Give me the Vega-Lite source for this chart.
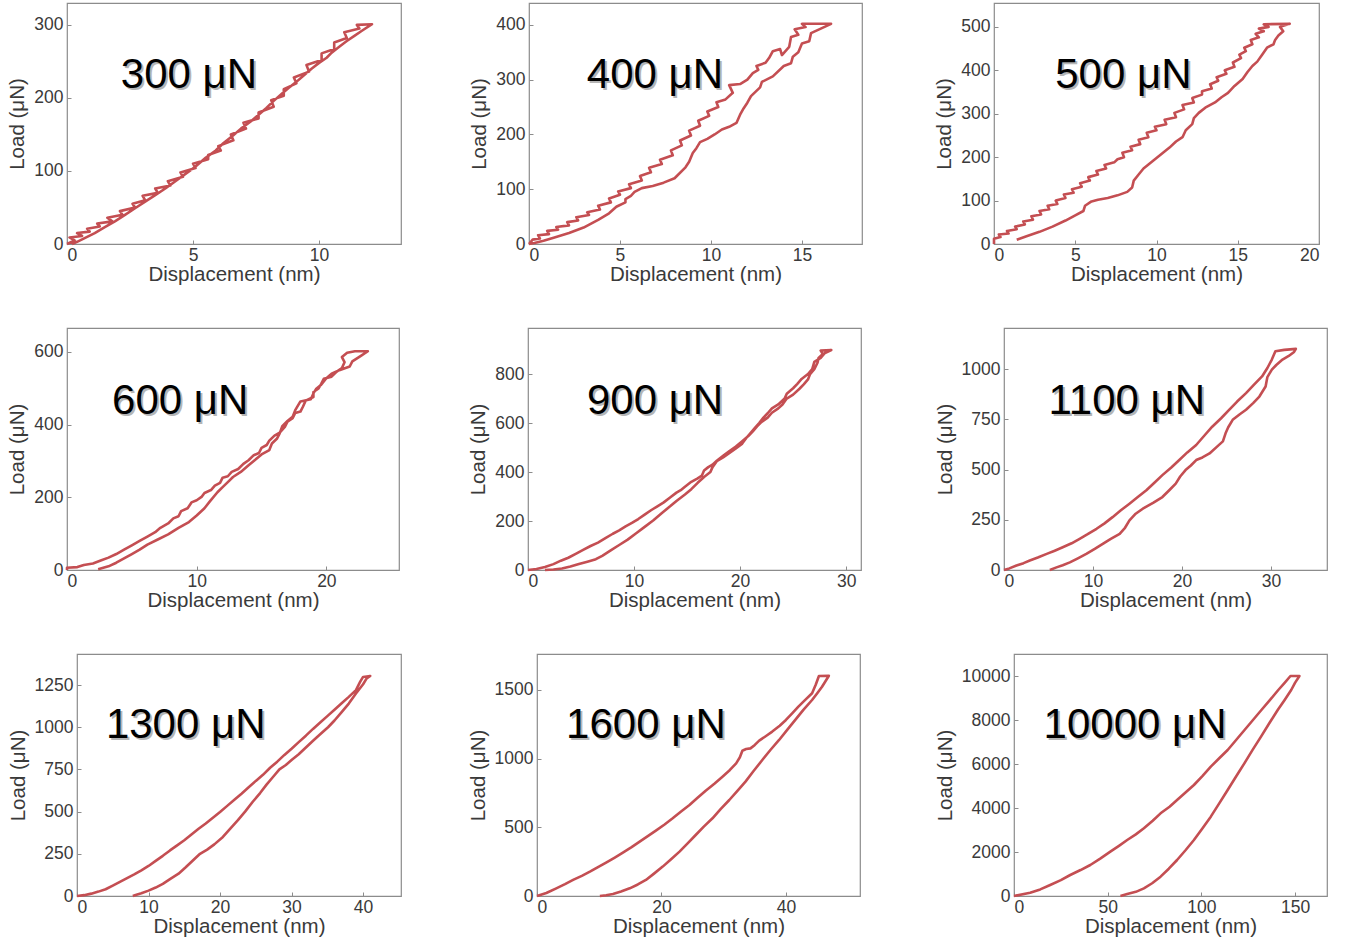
{
  "$schema": "https://vega.github.io/schema/vega-lite/v6.json",
  "background": "white",
  "padding": {"left": 6, "top": 2, "right": 5, "bottom": 5},
  "config": {
    "font": "Liberation Sans",
    "view": {"stroke": "#8c8c8c", "strokeWidth": 1.2},
    "axis": {"domain": false, "grid": false, "labelFontSize": 17.5, "titleFontSize": 20.5, "labelColor": "#3a3a3a", "titleColor": "#3a3a3a", "titleFontWeight": "normal", "ticks": true, "tickSize": -4, "tickColor": "#8c8c8c", "labelFont": "Liberation Sans", "titleFont": "Liberation Sans"},
    "axisX": {"labelPadding": 6, "titlePadding": 1},
    "axisY": {"labelPadding": 8, "titlePadding": 6},
    "line": {"color": "#c44e52", "strokeWidth": 2.6, "strokeJoin": "round"},
    "text": {"font": "Liberation Sans", "fontSize": 42, "align": "center", "baseline": "alphabetic"}
  },
  "columns": 1,
  "spacing": 41,
  "concat": [
    {
      "spacing": 0,
      "hconcat": [
        {"width": 1, "height": 1, "data": {"values": []}, "mark": {"type": "point", "opacity": 0}, "encoding": {}, "view": {"stroke": null}},
        {
          "spacing": 67,
          "hconcat": [
            {
              "width": 334, "height": 241,
              "encoding": {
                "x": {"field": "disp", "type": "quantitative", "title": "Displacement (nm)", "scale": {"domain": [0, 13.25], "nice": false}, "axis": {"values": [0, 5, 10], "format": "d"}},
                "y": {"field": "load", "type": "quantitative", "title": "Load (μN)", "scale": {"domain": [0, 330], "nice": false}, "axis": {"values": [0, 100, 200, 300], "format": "d"}}
              },
              "layer": [
                {"data": {"values": [{"disp":0,"load":0},{"disp":0.3,"load":5},{"disp":0.1,"load":9},{"disp":0.6,"load":11},{"disp":0.4,"load":15},{"disp":0.9,"load":17},{"disp":0.8,"load":21},{"disp":1.3,"load":24},{"disp":1.2,"load":28},{"disp":1.8,"load":31},{"disp":1.6,"load":36},{"disp":2.2,"load":40},{"disp":2.1,"load":45},{"disp":2.7,"load":50},{"disp":2.6,"load":55},{"disp":3.1,"load":60},{"disp":3.0,"load":66},{"disp":3.6,"load":70},{"disp":3.5,"load":76},{"disp":4.1,"load":80},{"disp":4.0,"load":86},{"disp":4.6,"load":92},{"disp":4.5,"load":98},{"disp":5.1,"load":104},{"disp":5.0,"load":110},{"disp":5.6,"load":116},{"disp":5.6,"load":122},{"disp":6.1,"load":128},{"disp":6.0,"load":134},{"disp":6.6,"load":142},{"disp":6.5,"load":150},{"disp":7.1,"load":158},{"disp":7.0,"load":166},{"disp":7.6,"load":172},{"disp":7.6,"load":180},{"disp":8.2,"load":188},{"disp":8.1,"load":197},{"disp":8.6,"load":203},{"disp":8.6,"load":212},{"disp":9.1,"load":220},{"disp":9.0,"load":228},{"disp":9.6,"load":236},{"disp":9.5,"load":245},{"disp":10.1,"load":252},{"disp":10.1,"load":261},{"disp":10.6,"load":267},{"disp":10.6,"load":276},{"disp":11.1,"load":282},{"disp":11.0,"load":290},{"disp":11.6,"load":295},{"disp":11.5,"load":300},{"disp":12.1,"load":301},{"disp":11.7,"load":292},{"disp":11.4,"load":285},{"disp":11.1,"load":278},{"disp":10.8,"load":270},{"disp":10.5,"load":262},{"disp":10.3,"load":255},{"disp":10.0,"load":248},{"disp":9.7,"load":240},{"disp":9.4,"load":231},{"disp":9.1,"load":222},{"disp":8.8,"load":214},{"disp":8.5,"load":205},{"disp":8.2,"load":196},{"disp":7.9,"load":186},{"disp":7.6,"load":177},{"disp":7.3,"load":168},{"disp":6.9,"load":158},{"disp":6.6,"load":149},{"disp":6.2,"load":138},{"disp":5.9,"load":128},{"disp":5.5,"load":118},{"disp":5.1,"load":106},{"disp":4.7,"load":96},{"disp":4.3,"load":86},{"disp":3.9,"load":76},{"disp":3.5,"load":67},{"disp":3.1,"load":58},{"disp":2.7,"load":49},{"disp":2.3,"load":40},{"disp":1.9,"load":31},{"disp":1.5,"load":23},{"disp":1.1,"load":15},{"disp":0.7,"load":8},{"disp":0.4,"load":3},{"disp":0.2,"load":0}]},
                 "mark": "line", "encoding": {"order": {"value": null}}},
                {"data": {"values": [{"label": "300 μN", "disp": 4.84, "load": 214}]},
                 "mark": {"type": "text", "color": "#b5b5b5", "dx": 2, "dy": 2}, "encoding": {"text": {"field": "label"}}},
                {"data": {"values": [{"label": "300 μN", "disp": 4.84, "load": 214}]},
                 "mark": {"type": "text", "color": "black"}, "encoding": {"text": {"field": "label"}}}
              ]
            },
            {
              "spacing": 71,
              "hconcat": [
                {
                  "width": 333, "height": 241,
                  "encoding": {
                    "x": {"field": "disp", "type": "quantitative", "title": "Displacement (nm)", "scale": {"domain": [0, 18.3], "nice": false}, "axis": {"values": [0, 5, 10, 15], "format": "d"}},
                    "y": {"field": "load", "type": "quantitative", "title": "Load (μN)", "scale": {"domain": [0, 440], "nice": false}, "axis": {"values": [0, 100, 200, 300, 400], "format": "d"}}
                  },
                  "layer": [
                    {"data": {"values": [{"disp":0,"load":0},{"disp":0.2,"load":8},{"disp":0.6,"load":10},{"disp":0.5,"load":16},{"disp":1.1,"load":18},{"disp":1.0,"load":24},{"disp":1.6,"load":26},{"disp":1.5,"load":31},{"disp":2.2,"load":34},{"disp":2.1,"load":40},{"disp":2.7,"load":43},{"disp":2.6,"load":49},{"disp":3.3,"load":53},{"disp":3.2,"load":58},{"disp":3.9,"load":63},{"disp":3.8,"load":70},{"disp":4.5,"load":76},{"disp":4.4,"load":83},{"disp":5.0,"load":90},{"disp":4.9,"load":96},{"disp":5.6,"load":102},{"disp":5.5,"load":109},{"disp":6.2,"load":116},{"disp":6.1,"load":124},{"disp":6.7,"load":131},{"disp":6.6,"load":139},{"disp":7.3,"load":146},{"disp":7.2,"load":154},{"disp":7.9,"load":162},{"disp":7.8,"load":171},{"disp":8.4,"load":180},{"disp":8.3,"load":189},{"disp":8.9,"load":198},{"disp":8.8,"load":207},{"disp":9.4,"load":216},{"disp":9.3,"load":225},{"disp":9.9,"load":234},{"disp":9.8,"load":242},{"disp":10.4,"load":250},{"disp":10.3,"load":259},{"disp":10.8,"load":264},{"disp":11.2,"load":276},{"disp":11.0,"load":290},{"disp":11.6,"load":292},{"disp":12.0,"load":300},{"disp":12.3,"load":312},{"disp":12.6,"load":318},{"disp":12.5,"load":325},{"disp":13.0,"load":331},{"disp":13.2,"load":340},{"disp":13.4,"load":352},{"disp":13.8,"load":356},{"disp":13.9,"load":345},{"disp":14.3,"load":360},{"disp":14.4,"load":378},{"disp":14.8,"load":382},{"disp":14.6,"load":392},{"disp":15.2,"load":396},{"disp":15.0,"load":402},{"disp":16.6,"load":402},{"disp":15.5,"load":385},{"disp":15.4,"load":370},{"disp":15.0,"load":366},{"disp":14.8,"load":350},{"disp":14.5,"load":342},{"disp":14.4,"load":330},{"disp":14.0,"load":325},{"disp":13.4,"load":306},{"disp":12.8,"load":296},{"disp":12.7,"load":286},{"disp":12.2,"load":270},{"disp":12.0,"load":258},{"disp":11.8,"load":248},{"disp":11.6,"load":236},{"disp":11.4,"load":221},{"disp":11.0,"load":214},{"disp":10.6,"load":209},{"disp":10.2,"load":200},{"disp":9.8,"load":192},{"disp":9.4,"load":186},{"disp":9.2,"load":175},{"disp":9.0,"load":166},{"disp":8.8,"load":150},{"disp":8.6,"load":140},{"disp":8.0,"load":120},{"disp":7.4,"load":112},{"disp":6.8,"load":106},{"disp":6.2,"load":102},{"disp":5.8,"load":95},{"disp":5.6,"load":88},{"disp":5.3,"load":82},{"disp":5.3,"load":76},{"disp":4.8,"load":68},{"disp":4.4,"load":56},{"disp":3.8,"load":44},{"disp":3.0,"load":30},{"disp":2.2,"load":20},{"disp":1.4,"load":12},{"disp":0.8,"load":6},{"disp":0.3,"load":2},{"disp":0,"load":0}]},
                     "mark": "line", "encoding": {"order": {"value": null}}},
                    {"data": {"values": [{"label": "400 μN", "disp": 6.92, "load": 285}]},
                     "mark": {"type": "text", "color": "#b5b5b5", "dx": 2, "dy": 2}, "encoding": {"text": {"field": "label"}}},
                    {"data": {"values": [{"label": "400 μN", "disp": 6.92, "load": 285}]},
                     "mark": {"type": "text", "color": "black"}, "encoding": {"text": {"field": "label"}}}
                  ]
                },
                {
                  "width": 325, "height": 241,
                  "encoding": {
                    "x": {"field": "disp", "type": "quantitative", "title": "Displacement (nm)", "scale": {"domain": [0, 20], "nice": false}, "axis": {"values": [0, 5, 10, 15, 20], "format": "d"}},
                    "y": {"field": "load", "type": "quantitative", "title": "Load (μN)", "scale": {"domain": [0, 555], "nice": false}, "axis": {"values": [0, 100, 200, 300, 400, 500], "format": "d"}}
                  },
                  "layer": [
                    {"data": {"values": [{"disp":0,"load":0},{"disp":0,"load":12},{"disp":0.4,"load":16},{"disp":0.3,"load":22},{"disp":0.9,"load":24},{"disp":0.8,"load":30},{"disp":1.4,"load":34},{"disp":1.3,"load":40},{"disp":1.9,"load":45},{"disp":1.8,"load":52},{"disp":2.4,"load":56},{"disp":2.3,"load":64},{"disp":2.9,"load":68},{"disp":2.8,"load":76},{"disp":3.4,"load":80},{"disp":3.3,"load":88},{"disp":3.9,"load":92},{"disp":3.8,"load":100},{"disp":4.4,"load":106},{"disp":4.3,"load":114},{"disp":4.9,"load":118},{"disp":4.8,"load":126},{"disp":5.4,"load":132},{"disp":5.3,"load":140},{"disp":5.9,"load":146},{"disp":5.8,"load":154},{"disp":6.4,"load":160},{"disp":6.3,"load":168},{"disp":6.9,"load":174},{"disp":6.8,"load":182},{"disp":7.4,"load":188},{"disp":7.6,"load":195},{"disp":8.0,"load":200},{"disp":7.9,"load":210},{"disp":8.5,"load":216},{"disp":8.4,"load":224},{"disp":9.0,"load":230},{"disp":8.9,"load":240},{"disp":9.5,"load":246},{"disp":9.4,"load":256},{"disp":10.0,"load":262},{"disp":9.9,"load":270},{"disp":10.6,"load":276},{"disp":10.5,"load":286},{"disp":11.2,"load":292},{"disp":11.1,"load":302},{"disp":11.7,"load":310},{"disp":11.6,"load":320},{"disp":12.3,"load":326},{"disp":12.2,"load":336},{"disp":12.8,"load":344},{"disp":12.8,"load":352},{"disp":13.4,"load":358},{"disp":13.3,"load":368},{"disp":13.8,"load":376},{"disp":13.7,"load":384},{"disp":14.3,"load":392},{"disp":14.2,"load":400},{"disp":14.8,"load":408},{"disp":14.7,"load":418},{"disp":15.2,"load":428},{"disp":15.1,"load":436},{"disp":15.5,"load":444},{"disp":15.4,"load":452},{"disp":15.9,"load":460},{"disp":15.8,"load":470},{"disp":16.3,"load":476},{"disp":16.1,"load":484},{"disp":16.6,"load":490},{"disp":16.3,"load":496},{"disp":16.9,"load":500},{"disp":16.6,"load":506},{"disp":18.2,"load":507},{"disp":17.6,"load":500},{"disp":17.8,"load":490},{"disp":17.5,"load":480},{"disp":17.3,"load":470},{"disp":17.2,"load":460},{"disp":16.8,"load":452},{"disp":16.5,"load":436},{"disp":16.2,"load":420},{"disp":15.9,"load":410},{"disp":15.6,"load":396},{"disp":15.3,"load":380},{"disp":14.8,"load":364},{"disp":14.4,"load":348},{"disp":14.0,"load":338},{"disp":13.6,"load":326},{"disp":13.0,"load":314},{"disp":12.6,"load":302},{"disp":12.3,"load":290},{"disp":12.2,"load":276},{"disp":11.8,"load":262},{"disp":11.6,"load":246},{"disp":11.2,"load":236},{"disp":10.8,"load":222},{"disp":10.4,"load":210},{"disp":10.0,"load":198},{"disp":9.6,"load":186},{"disp":9.2,"load":174},{"disp":8.9,"load":160},{"disp":8.6,"load":146},{"disp":8.5,"load":130},{"disp":8.2,"load":120},{"disp":7.6,"load":112},{"disp":7.0,"load":106},{"disp":6.4,"load":102},{"disp":6.0,"load":98},{"disp":5.6,"load":88},{"disp":5.5,"load":76},{"disp":5.0,"load":66},{"disp":4.4,"load":54},{"disp":3.6,"load":40},{"disp":2.8,"load":28},{"disp":2.0,"load":18},{"disp":1.4,"load":10}]},
                     "mark": "line", "encoding": {"order": {"value": null}}},
                    {"data": {"values": [{"label": "500 μN", "disp": 7.96, "load": 359}]},
                     "mark": {"type": "text", "color": "#b5b5b5", "dx": 2, "dy": 2}, "encoding": {"text": {"field": "label"}}},
                    {"data": {"values": [{"label": "500 μN", "disp": 7.96, "load": 359}]},
                     "mark": {"type": "text", "color": "black"}, "encoding": {"text": {"field": "label"}}}
                  ]
                }
              ]
            }
          ]
        }
      ]
    },
    {
      "spacing": 0,
      "hconcat": [
        {"width": 1, "height": 1, "data": {"values": []}, "mark": {"type": "point", "opacity": 0}, "encoding": {}, "view": {"stroke": null}},
        {
          "spacing": 68,
          "hconcat": [
            {
              "width": 332, "height": 242,
              "encoding": {
                "x": {"field": "disp", "type": "quantitative", "title": "Displacement (nm)", "scale": {"domain": [0, 25.6], "nice": false}, "axis": {"values": [0, 10, 20], "format": "d"}},
                "y": {"field": "load", "type": "quantitative", "title": "Load (μN)", "scale": {"domain": [0, 666], "nice": false}, "axis": {"values": [0, 200, 400, 600], "format": "d"}}
              },
              "layer": [
                {"data": {"values": [{"disp":0,"load":0},{"disp":0,"load":6},{"disp":0.8,"load":8},{"disp":1.3,"load":14},{"disp":2.0,"load":18},{"disp":2.6,"load":26},{"disp":3.2,"load":34},{"disp":3.8,"load":44},{"disp":4.4,"load":56},{"disp":5.0,"load":68},{"disp":5.6,"load":80},{"disp":6.2,"load":92},{"disp":6.8,"load":104},{"disp":7.2,"load":116},{"disp":7.8,"load":128},{"disp":8.2,"load":142},{"disp":8.6,"load":148},{"disp":8.8,"load":162},{"disp":9.3,"load":170},{"disp":9.6,"load":186},{"disp":10.0,"load":192},{"disp":10.4,"load":202},{"disp":10.6,"load":212},{"disp":11.1,"load":220},{"disp":11.4,"load":232},{"disp":11.8,"load":240},{"disp":12.0,"load":254},{"disp":12.4,"load":258},{"disp":12.7,"load":270},{"disp":13.2,"load":278},{"disp":13.6,"load":292},{"disp":14.0,"load":302},{"disp":14.4,"load":316},{"disp":14.8,"load":322},{"disp":15.0,"load":336},{"disp":15.4,"load":344},{"disp":15.6,"load":356},{"disp":16.0,"load":370},{"disp":16.4,"load":378},{"disp":16.8,"load":394},{"disp":17.0,"load":408},{"disp":17.4,"load":418},{"disp":17.6,"load":432},{"disp":18.0,"load":436},{"disp":18.2,"load":450},{"disp":18.4,"load":466},{"disp":19.0,"load":476},{"disp":19.0,"load":490},{"disp":19.4,"load":500},{"disp":19.6,"load":512},{"disp":19.8,"load":526},{"disp":20.4,"load":532},{"disp":20.8,"load":546},{"disp":21.2,"load":556},{"disp":21.4,"load":572},{"disp":21.2,"load":586},{"disp":21.6,"load":598},{"disp":22.2,"load":602},{"disp":23.2,"load":602},{"disp":22.6,"load":588},{"disp":22.0,"load":574},{"disp":21.8,"load":560},{"disp":21.0,"load":550},{"disp":20.4,"load":540},{"disp":20.0,"load":528},{"disp":19.6,"load":510},{"disp":19.2,"load":498},{"disp":19.0,"load":486},{"disp":18.8,"load":470},{"disp":18.0,"load":464},{"disp":17.6,"load":440},{"disp":17.4,"load":422},{"disp":17.0,"load":410},{"disp":16.6,"load":396},{"disp":16.4,"load":376},{"disp":16.2,"load":362},{"disp":15.8,"load":348},{"disp":15.6,"load":330},{"disp":15.0,"load":318},{"disp":14.4,"load":300},{"disp":14.0,"load":288},{"disp":13.4,"load":270},{"disp":12.8,"load":256},{"disp":12.4,"load":242},{"disp":12.0,"load":228},{"disp":11.6,"load":214},{"disp":11.0,"load":188},{"disp":10.6,"load":170},{"disp":10.0,"load":150},{"disp":9.4,"load":132},{"disp":8.6,"load":116},{"disp":7.8,"load":98},{"disp":7.0,"load":84},{"disp":6.2,"load":70},{"disp":5.6,"load":56},{"disp":5.0,"load":44},{"disp":4.4,"load":32},{"disp":3.8,"load":20},{"disp":3.2,"load":10},{"disp":2.6,"load":4},{"disp":2.4,"load":2}]},
                 "mark": "line", "encoding": {"order": {"value": null}}},
                {"data": {"values": [{"label": "600 μN", "disp": 8.73, "load": 429}]},
                 "mark": {"type": "text", "color": "#b5b5b5", "dx": 2, "dy": 2}, "encoding": {"text": {"field": "label"}}},
                {"data": {"values": [{"label": "600 μN", "disp": 8.73, "load": 429}]},
                 "mark": {"type": "text", "color": "black"}, "encoding": {"text": {"field": "label"}}}
              ]
            },
            {
              "spacing": 72,
              "hconcat": [
                {
                  "width": 333, "height": 242,
                  "encoding": {
                    "x": {"field": "disp", "type": "quantitative", "title": "Displacement (nm)", "scale": {"domain": [0, 31.4], "nice": false}, "axis": {"values": [0, 10, 20, 30], "format": "d"}},
                    "y": {"field": "load", "type": "quantitative", "title": "Load (μN)", "scale": {"domain": [0, 988], "nice": false}, "axis": {"values": [0, 200, 400, 600, 800], "format": "d"}}
                  },
                  "layer": [
                    {"data": {"values": [{"disp":0,"load":0},{"disp":0.8,"load":4},{"disp":1.6,"load":12},{"disp":2.4,"load":24},{"disp":3.1,"load":38},{"disp":3.8,"load":50},{"disp":4.5,"load":66},{"disp":5.2,"load":82},{"disp":5.9,"load":98},{"disp":6.6,"load":112},{"disp":7.3,"load":130},{"disp":8.0,"load":148},{"disp":8.6,"load":162},{"disp":9.2,"load":178},{"disp":9.8,"load":192},{"disp":10.4,"load":208},{"disp":11.0,"load":226},{"disp":11.6,"load":244},{"disp":12.2,"load":260},{"disp":12.8,"load":276},{"disp":13.4,"load":296},{"disp":14.0,"load":316},{"disp":14.4,"load":326},{"disp":14.8,"load":340},{"disp":15.4,"load":360},{"disp":16.0,"load":374},{"disp":16.4,"load":386},{"disp":16.6,"load":406},{"disp":17.0,"load":420},{"disp":17.4,"load":430},{"disp":17.8,"load":446},{"disp":18.4,"load":466},{"disp":19.0,"load":486},{"disp":19.6,"load":504},{"disp":20.2,"load":526},{"disp":20.8,"load":548},{"disp":21.2,"load":566},{"disp":21.6,"load":586},{"disp":22.0,"load":604},{"disp":22.6,"load":622},{"disp":23.0,"load":642},{"disp":23.6,"load":660},{"disp":24.0,"load":676},{"disp":24.4,"load":700},{"disp":25.0,"load":716},{"disp":25.6,"load":740},{"disp":26.0,"load":758},{"disp":26.4,"load":778},{"disp":26.6,"load":800},{"disp":27.0,"load":820},{"disp":27.3,"load":846},{"disp":27.4,"load":866},{"disp":27.8,"load":882},{"disp":27.6,"load":896},{"disp":28.6,"load":898},{"disp":28.0,"load":886},{"disp":27.6,"load":866},{"disp":27.0,"load":850},{"disp":26.8,"load":820},{"disp":26.4,"load":800},{"disp":25.8,"load":780},{"disp":25.4,"load":760},{"disp":25.0,"load":742},{"disp":24.4,"load":720},{"disp":24.2,"load":700},{"disp":23.6,"load":676},{"disp":23.0,"load":660},{"disp":22.6,"load":640},{"disp":22.2,"load":622},{"disp":21.8,"load":600},{"disp":21.4,"load":580},{"disp":21.0,"load":560},{"disp":20.6,"load":540},{"disp":20.2,"load":516},{"disp":19.6,"load":496},{"disp":19.0,"load":478},{"disp":18.4,"load":460},{"disp":17.8,"load":444},{"disp":17.4,"load":420},{"disp":17.2,"load":400},{"disp":16.6,"load":380},{"disp":16.0,"load":356},{"disp":15.4,"load":330},{"disp":14.8,"load":308},{"disp":14.0,"load":282},{"disp":13.4,"load":260},{"disp":12.6,"load":232},{"disp":11.8,"load":202},{"disp":11.0,"load":176},{"disp":10.2,"load":150},{"disp":9.4,"load":124},{"disp":8.6,"load":102},{"disp":7.8,"load":80},{"disp":7.0,"load":58},{"disp":6.4,"load":44},{"disp":5.6,"load":34},{"disp":4.8,"load":24},{"disp":4.0,"load":14},{"disp":3.2,"load":6},{"disp":2.4,"load":2},{"disp":1.6,"load":0}]},
                     "mark": "line", "encoding": {"order": {"value": null}}},
                    {"data": {"values": [{"label": "900 μN", "disp": 11.98, "load": 637}]},
                     "mark": {"type": "text", "color": "#b5b5b5", "dx": 2, "dy": 2}, "encoding": {"text": {"field": "label"}}},
                    {"data": {"values": [{"label": "900 μN", "disp": 11.98, "load": 637}]},
                     "mark": {"type": "text", "color": "black"}, "encoding": {"text": {"field": "label"}}}
                  ]
                },
                {
                  "width": 323, "height": 242,
                  "encoding": {
                    "x": {"field": "disp", "type": "quantitative", "title": "Displacement (nm)", "scale": {"domain": [0, 36.3], "nice": false}, "axis": {"values": [0, 10, 20, 30], "format": "d"}},
                    "y": {"field": "load", "type": "quantitative", "title": "Load (μN)", "scale": {"domain": [0, 1204], "nice": false}, "axis": {"values": [0, 250, 500, 750, 1000], "format": "d"}}
                  },
                  "layer": [
                    {"data": {"values": [{"disp":0,"load":0},{"disp":0.6,"load":8},{"disp":1.4,"load":22},{"disp":2.2,"load":34},{"disp":2.9,"load":47},{"disp":3.8,"load":62},{"disp":4.8,"load":80},{"disp":5.7,"load":96},{"disp":6.6,"load":113},{"disp":7.6,"load":133},{"disp":8.5,"load":155},{"disp":9.4,"load":178},{"disp":10.4,"load":205},{"disp":11.3,"load":232},{"disp":12.2,"load":263},{"disp":13.1,"load":296},{"disp":14.1,"load":330},{"disp":15.0,"load":362},{"disp":16.0,"load":397},{"disp":16.9,"load":434},{"disp":17.8,"load":472},{"disp":18.8,"load":510},{"disp":19.7,"load":547},{"disp":20.6,"load":585},{"disp":21.6,"load":622},{"disp":22.5,"load":668},{"disp":23.4,"load":713},{"disp":24.4,"load":755},{"disp":25.3,"load":797},{"disp":26.2,"load":838},{"disp":27.2,"load":880},{"disp":28.1,"load":922},{"disp":29.0,"load":963},{"disp":29.6,"load":1005},{"disp":30.1,"load":1047},{"disp":30.5,"load":1088},{"disp":31.5,"load":1095},{"disp":32.8,"load":1100},{"disp":32.6,"load":1085},{"disp":32.0,"load":1065},{"disp":31.3,"load":1047},{"disp":30.6,"load":1020},{"disp":30.1,"load":997},{"disp":29.6,"load":960},{"disp":29.4,"load":913},{"disp":28.7,"load":863},{"disp":28.0,"load":830},{"disp":27.2,"load":797},{"disp":26.5,"load":775},{"disp":25.7,"load":747},{"disp":25.2,"load":710},{"disp":24.9,"load":680},{"disp":24.6,"load":640},{"disp":24.1,"load":620},{"disp":23.1,"load":580},{"disp":22.3,"load":560},{"disp":21.6,"load":547},{"disp":21.0,"load":520},{"disp":20.4,"load":497},{"disp":19.8,"load":465},{"disp":19.3,"load":430},{"disp":18.6,"load":398},{"disp":17.8,"load":363},{"disp":16.8,"load":335},{"disp":15.6,"load":305},{"disp":14.8,"load":280},{"disp":14.1,"load":247},{"disp":13.6,"load":210},{"disp":13.0,"load":180},{"disp":12.0,"load":155},{"disp":11.1,"load":130},{"disp":10.2,"load":105},{"disp":9.25,"load":80},{"disp":8.3,"load":58},{"disp":7.4,"load":38},{"disp":6.6,"load":24},{"disp":5.9,"load":13},{"disp":5.15,"load":0}]},
                     "mark": "line", "encoding": {"order": {"value": null}}},
                    {"data": {"values": [{"label": "1100 μN", "disp": 13.8, "load": 776}]},
                     "mark": {"type": "text", "color": "#b5b5b5", "dx": 2, "dy": 2}, "encoding": {"text": {"field": "label"}}},
                    {"data": {"values": [{"label": "1100 μN", "disp": 13.8, "load": 776}]},
                     "mark": {"type": "text", "color": "black"}, "encoding": {"text": {"field": "label"}}}
                  ]
                }
              ]
            }
          ]
        }
      ]
    },
    {
      "spacing": 0,
      "hconcat": [
        {"width": 1, "height": 1, "data": {"values": []}, "mark": {"type": "point", "opacity": 0}, "encoding": {}, "view": {"stroke": null}},
        {
          "spacing": 65,
          "hconcat": [
            {
              "width": 324, "height": 242,
              "encoding": {
                "x": {"field": "disp", "type": "quantitative", "title": "Displacement (nm)", "scale": {"domain": [0, 45.3], "nice": false}, "axis": {"values": [0, 10, 20, 30, 40], "format": "d"}},
                "y": {"field": "load", "type": "quantitative", "title": "Load (μN)", "scale": {"domain": [0, 1434], "nice": false}, "axis": {"values": [0, 250, 500, 750, 1000, 1250], "format": "d"}}
              },
              "layer": [
                {"data": {"values": [{"disp":0,"load":0},{"disp":1,"load":5},{"disp":2,"load":14},{"disp":3,"load":26},{"disp":4,"load":40},{"disp":5,"load":62},{"disp":6,"load":84},{"disp":7,"load":106},{"disp":8,"load":128},{"disp":9,"load":152},{"disp":10,"load":178},{"disp":11,"load":208},{"disp":12,"load":238},{"disp":13,"load":270},{"disp":14,"load":300},{"disp":15,"load":330},{"disp":16,"load":364},{"disp":17,"load":398},{"disp":18,"load":430},{"disp":19,"load":464},{"disp":20,"load":498},{"disp":21,"load":534},{"disp":22,"load":570},{"disp":23,"load":606},{"disp":24,"load":644},{"disp":25,"load":682},{"disp":26,"load":718},{"disp":27,"load":760},{"disp":28,"load":796},{"disp":29,"load":836},{"disp":30,"load":873},{"disp":31,"load":912},{"disp":32,"load":950},{"disp":33,"load":990},{"disp":34,"load":1028},{"disp":35,"load":1066},{"disp":36,"load":1104},{"disp":37,"load":1142},{"disp":38,"load":1180},{"disp":39,"load":1220},{"disp":39.6,"load":1270},{"disp":40.0,"load":1298},{"disp":41.0,"load":1304},{"disp":40.5,"load":1290},{"disp":40.0,"load":1255},{"disp":39.0,"load":1200},{"disp":38.0,"load":1140},{"disp":37.0,"load":1090},{"disp":36.0,"load":1040},{"disp":35.1,"load":1000},{"disp":34.0,"load":958},{"disp":33.0,"load":920},{"disp":32.0,"load":880},{"disp":31.0,"load":840},{"disp":30.0,"load":806},{"disp":29.2,"load":776},{"disp":28.3,"load":750},{"disp":27.4,"load":705},{"disp":26.5,"load":660},{"disp":25.6,"load":610},{"disp":24.6,"load":560},{"disp":23.5,"load":500},{"disp":22.5,"load":450},{"disp":21.4,"load":398},{"disp":20.4,"load":350},{"disp":19.2,"load":306},{"disp":18.2,"load":275},{"disp":17.2,"load":250},{"disp":16.2,"load":210},{"disp":15.2,"load":170},{"disp":14.2,"load":132},{"disp":13.0,"load":100},{"disp":12.0,"load":72},{"disp":11.0,"load":50},{"disp":10.0,"load":32},{"disp":9.0,"load":16},{"disp":8.2,"load":6},{"disp":7.8,"load":0}]},
                 "mark": "line", "encoding": {"order": {"value": null}}},
                {"data": {"values": [{"label": "1300 μN", "disp": 15.2, "load": 936}]},
                 "mark": {"type": "text", "color": "#b5b5b5", "dx": 2, "dy": 2}, "encoding": {"text": {"field": "label"}}},
                {"data": {"values": [{"label": "1300 μN", "disp": 15.2, "load": 936}]},
                 "mark": {"type": "text", "color": "black"}, "encoding": {"text": {"field": "label"}}}
              ]
            },
            {
              "spacing": 73,
              "hconcat": [
                {
                  "width": 323, "height": 242,
                  "encoding": {
                    "x": {"field": "disp", "type": "quantitative", "title": "Displacement (nm)", "scale": {"domain": [0, 51.9], "nice": false}, "axis": {"values": [0, 20, 40], "format": "d"}},
                    "y": {"field": "load", "type": "quantitative", "title": "Load (μN)", "scale": {"domain": [0, 1762], "nice": false}, "axis": {"values": [0, 500, 1000, 1500], "format": "d"}}
                  },
                  "layer": [
                    {"data": {"values": [{"disp":0,"load":0},{"disp":1.5,"load":22},{"disp":3.1,"load":56},{"disp":4.5,"load":86},{"disp":5.8,"load":117},{"disp":7.2,"load":147},{"disp":8.5,"load":177},{"disp":9.8,"load":210},{"disp":11.1,"load":243},{"disp":12.5,"load":280},{"disp":13.8,"load":316},{"disp":15.2,"load":356},{"disp":16.5,"load":396},{"disp":17.8,"load":436},{"disp":19.1,"load":476},{"disp":20.5,"load":521},{"disp":21.8,"load":566},{"disp":23.1,"load":614},{"disp":24.5,"load":663},{"disp":25.8,"load":715},{"disp":27.1,"load":767},{"disp":28.5,"load":818},{"disp":29.8,"load":869},{"disp":31,"load":918},{"disp":32,"load":966},{"disp":32.6,"load":1010},{"disp":33,"load":1058},{"disp":33.6,"load":1070},{"disp":34.3,"load":1075},{"disp":35,"load":1100},{"disp":35.7,"load":1131},{"disp":36.8,"load":1165},{"disp":37.8,"load":1197},{"disp":39,"load":1240},{"disp":40,"load":1282},{"disp":41,"load":1330},{"disp":42,"load":1379},{"disp":43.1,"load":1428},{"disp":44.2,"load":1476},{"disp":44.8,"load":1540},{"disp":45.3,"load":1602},{"disp":46.9,"load":1604},{"disp":46.3,"load":1560},{"disp":45.8,"load":1524},{"disp":45,"load":1475},{"disp":44.2,"load":1427},{"disp":42.8,"load":1355},{"disp":41.5,"load":1282},{"disp":40.2,"load":1210},{"disp":38.9,"load":1136},{"disp":37.5,"load":1063},{"disp":36.2,"load":990},{"disp":34.8,"load":910},{"disp":33.5,"load":833},{"disp":32.2,"load":765},{"disp":30.9,"load":699},{"disp":29.5,"load":632},{"disp":28.2,"load":566},{"disp":26.8,"load":505},{"disp":25.5,"load":444},{"disp":24.2,"load":383},{"disp":22.9,"load":323},{"disp":21.5,"load":266},{"disp":20.2,"load":214},{"disp":18.8,"load":163},{"disp":17.5,"load":117},{"disp":16.2,"load":84},{"disp":14.9,"load":56},{"disp":13.5,"load":33},{"disp":12.2,"load":15},{"disp":11.1,"load":6},{"disp":10.1,"load":0}]},
                     "mark": "line", "encoding": {"order": {"value": null}}},
                    {"data": {"values": [{"label": "1600 μN", "disp": 17.5, "load": 1151}]},
                     "mark": {"type": "text", "color": "#b5b5b5", "dx": 2, "dy": 2}, "encoding": {"text": {"field": "label"}}},
                    {"data": {"values": [{"label": "1600 μN", "disp": 17.5, "load": 1151}]},
                     "mark": {"type": "text", "color": "black"}, "encoding": {"text": {"field": "label"}}}
                  ]
                },
                {
                  "width": 313, "height": 242,
                  "encoding": {
                    "x": {"field": "disp", "type": "quantitative", "title": "Displacement (nm)", "scale": {"domain": [0, 167], "nice": false}, "axis": {"values": [0, 50, 100, 150], "format": "d"}},
                    "y": {"field": "load", "type": "quantitative", "title": "Load (μN)", "scale": {"domain": [0, 11000], "nice": false}, "axis": {"values": [0, 2000, 4000, 6000, 8000, 10000], "format": "d"}}
                  },
                  "layer": [
                    {"data": {"values": [{"disp":0,"load":0},{"disp":8.6,"load":150},{"disp":14,"load":300},{"disp":19.3,"load":500},{"disp":25,"load":720},{"disp":30,"load":955},{"disp":35.5,"load":1180},{"disp":40.7,"load":1410},{"disp":46,"load":1700},{"disp":51.4,"load":2015},{"disp":56,"load":2280},{"disp":60.4,"load":2545},{"disp":65,"load":2800},{"disp":69.3,"load":3076},{"disp":74,"load":3420},{"disp":78.2,"load":3758},{"disp":83,"load":4060},{"disp":87,"load":4364},{"disp":91.5,"load":4700},{"disp":96,"load":5045},{"disp":100.5,"load":5450},{"disp":105,"load":5879},{"disp":109.5,"load":6260},{"disp":114,"load":6636},{"disp":118.5,"load":7090},{"disp":123,"load":7545},{"disp":127.5,"load":8000},{"disp":132,"load":8455},{"disp":136.5,"load":8900},{"disp":141,"load":9364},{"disp":144.5,"load":9700},{"disp":147.5,"load":10000},{"disp":152.3,"load":10000},{"disp":150,"load":9700},{"disp":147.9,"load":9364},{"disp":144.3,"load":8900},{"disp":140.7,"load":8455},{"disp":136.2,"load":7850},{"disp":131.8,"load":7242},{"disp":127.3,"load":6640},{"disp":122.9,"load":6030},{"disp":118.4,"load":5420},{"disp":114,"load":4818},{"disp":109.5,"load":4210},{"disp":105,"load":3606},{"disp":100.5,"load":3070},{"disp":96,"load":2545},{"disp":91.5,"load":2080},{"disp":87,"load":1636},{"disp":82.6,"load":1240},{"disp":78.2,"load":879},{"disp":73.7,"load":580},{"disp":69.3,"load":348},{"disp":65,"load":190},{"disp":60.4,"load":91},{"disp":56.8,"load":0}]},
                     "mark": "line", "encoding": {"order": {"value": null}}},
                    {"data": {"values": [{"label": "10000 μN", "disp": 64.6, "load": 7182}]},
                     "mark": {"type": "text", "color": "#b5b5b5", "dx": 2, "dy": 2}, "encoding": {"text": {"field": "label"}}},
                    {"data": {"values": [{"label": "10000 μN", "disp": 64.6, "load": 7182}]},
                     "mark": {"type": "text", "color": "black"}, "encoding": {"text": {"field": "label"}}}
                  ]
                }
              ]
            }
          ]
        }
      ]
    }
  ]
}
